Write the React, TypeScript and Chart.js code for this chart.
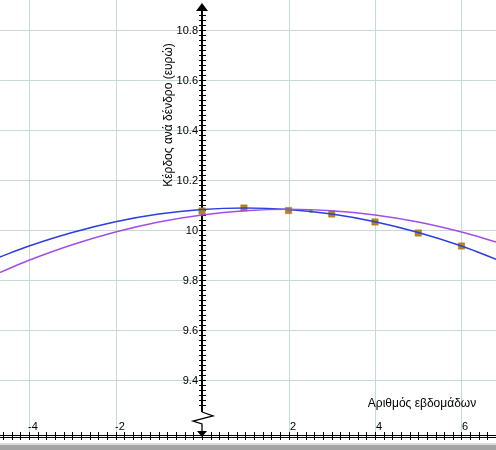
import React, { useEffect, useRef } from "react";
import { Chart, registerables } from "chart.js";

Chart.register(...registerables);

const curveX = [-4.7, -4, -3, -2, -1, 0, 1, 2, 3, 4, 5, 6, 6.8];
const blueY = [9.89, 9.936, 9.99, 10.033, 10.064, 10.082, 10.088, 10.082, 10.064, 10.033, 9.99, 9.936, 9.883];
const purpleY = [9.828, 9.879, 9.941, 9.992, 10.032, 10.06, 10.077, 10.083, 10.077, 10.06, 10.032, 9.992, 9.952];
const markerX = [0, 0.97, 2, 3, 4, 5, 6];
const markerY = [10.076, 10.088, 10.078, 10.064, 10.032, 9.988, 9.936];
const greenX = [2.52];
const greenY = [10.076];
const xTickLabels = [-4, -2, 2, 4, 6];
const yTickLabels = [9.4, 9.6, 9.8, 10, 10.2, 10.4, 10.6, 10.8];
const xTitle = "Αριθμός εβδομάδων";
const yTitle = "Κέρδος ανά δένδρο (ευρώ)";

const FONT = '11px "Liberation Sans", Arial, sans-serif';
const TITLE_FONT = '12px "Liberation Sans", Arial, sans-serif';

const axesPlugin = {
  id: "customAxes",
  beforeDatasetsDraw(chart: any) {
    const ctx = chart.ctx;
    const xs = chart.scales.x;
    const ys = chart.scales.y;
    const W = chart.width;
    const H = chart.height;
    const x0 = Math.round(xs.getPixelForValue(0));
    const axisY = 435;
    ctx.save();
    // grid
    ctx.strokeStyle = "#c6d9d9";
    ctx.lineWidth = 1;
    for (const v of yTickLabels) {
      const py = Math.round(ys.getPixelForValue(v)) + 0.5;
      ctx.beginPath();
      ctx.moveTo(0, py);
      ctx.lineTo(W, py);
      ctx.stroke();
    }
    for (const v of xTickLabels) {
      const px = Math.round(xs.getPixelForValue(v)) + 0.5;
      ctx.beginPath();
      ctx.moveTo(px, 0);
      ctx.lineTo(px, axisY);
      ctx.stroke();
    }
    // bottom band
    ctx.fillStyle = "#dcdcdc";
    ctx.fillRect(0, 443, W, 2);
    ctx.fillStyle = "#a4a4a4";
    ctx.fillRect(0, 445, W, H - 445);
    // x axis double line
    ctx.strokeStyle = "#000";
    ctx.lineWidth = 1;
    ctx.beginPath();
    ctx.moveTo(0, axisY + 0.5);
    ctx.lineTo(W, axisY + 0.5);
    ctx.moveTo(0, axisY + 2.5);
    ctx.lineTo(W, axisY + 2.5);
    ctx.stroke();
    // x ticks every 0.2
    ctx.beginPath();
    for (let i = -24; i <= 34; i++) {
      const px = Math.round(xs.getPixelForValue(i * 0.2)) + 0.5;
      ctx.moveTo(px, axisY - 3);
      ctx.lineTo(px, axisY + 5);
    }
    ctx.stroke();
    // y axis
    const breakTop = 412;
    ctx.lineWidth = 2;
    ctx.beginPath();
    ctx.moveTo(x0, 8);
    ctx.lineTo(x0, breakTop);
    ctx.stroke();
    ctx.lineWidth = 1.3;
    ctx.beginPath();
    ctx.moveTo(x0, breakTop);
    ctx.lineTo(x0 + 11, breakTop + 4);
    ctx.lineTo(x0 - 9, breakTop + 9);
    ctx.lineTo(x0, breakTop + 12);
    ctx.lineTo(x0, axisY - 4);
    ctx.stroke();
    // y ticks every 0.02
    ctx.lineWidth = 1;
    ctx.beginPath();
    for (let i = 0; i <= 90; i++) {
      const v = 9.3 + i * 0.02;
      const py = Math.round(ys.getPixelForValue(v)) + 0.5;
      if (py < 12 || py > breakTop - 1) continue;
      ctx.moveTo(x0 - 3, py);
      ctx.lineTo(x0 + 4, py);
    }
    ctx.stroke();
    // arrows
    ctx.fillStyle = "#000";
    ctx.beginPath();
    ctx.moveTo(x0, 3);
    ctx.lineTo(x0 + 6, 11);
    ctx.lineTo(x0 - 6, 11);
    ctx.closePath();
    ctx.fill();
    ctx.beginPath();
    ctx.moveTo(x0, axisY + 2);
    ctx.lineTo(x0 + 5, axisY - 4);
    ctx.lineTo(x0 - 5, axisY - 4);
    ctx.closePath();
    ctx.fill();
    // labels
    ctx.font = FONT;
    ctx.fillStyle = "#000";
    ctx.textAlign = "right";
    ctx.textBaseline = "middle";
    for (const v of yTickLabels) {
      const py = ys.getPixelForValue(v);
      ctx.fillText(String(v), x0 - 4, py + 1);
    }
    ctx.textAlign = "left";
    ctx.textBaseline = "alphabetic";
    for (const v of xTickLabels) {
      const px = Math.round(xs.getPixelForValue(v));
      ctx.fillText(String(v), v < 0 ? px - 1 : px + 1, 430);
    }
    ctx.font = TITLE_FONT;
    ctx.textAlign = "center";
    ctx.fillText(xTitle, 422, 407);
    ctx.save();
    ctx.translate(172, 115);
    ctx.rotate(-Math.PI / 2);
    ctx.textBaseline = "alphabetic";
    ctx.fillText(yTitle, 0, 0);
    ctx.restore();
    ctx.restore();
  },
};

export default function App() {
  const ref = useRef<HTMLCanvasElement | null>(null);
  useEffect(() => {
    if (!ref.current) return;
    const toPts = (xs: number[], ys: number[]) => xs.map((x, i) => ({ x, y: ys[i] }));
    const chart = new Chart(ref.current, {
      type: "scatter",
      data: {
        datasets: [
          {
            data: toPts(curveX, purpleY),
            showLine: true,
            borderColor: "#a24de6",
            borderWidth: 1.5,
            pointRadius: 0,
            tension: 0.4,
          },
          {
            data: toPts(curveX, blueY),
            showLine: true,
            borderColor: "#2c3ee0",
            borderWidth: 1.5,
            pointRadius: 0,
            tension: 0.4,
          },
          {
            data: toPts(markerX, markerY),
            showLine: false,
            pointStyle: "rect",
            pointRadius: 4.5,
            backgroundColor: "#b8841a",
            borderColor: "#a87614",
            borderWidth: 0.5,
          },
          {
            data: toPts(greenX, greenY),
            showLine: false,
            pointRadius: 2,
            backgroundColor: "#44cc33",
            borderWidth: 0,
          },
        ],
      },
      options: {
        responsive: false,
        animation: false,
        devicePixelRatio: 1,
        layout: { padding: 0, autoPadding: false },
        plugins: { legend: { display: false }, tooltip: { enabled: false } },
        scales: {
          x: { type: "linear", display: false, min: -4.671, max: 6.798 },
          y: { type: "linear", display: false, min: 9.12, max: 10.92 },
        },
      },
      plugins: [axesPlugin],
    } as any);
    return () => chart.destroy();
  }, []);
  return (
    <div style={{ position: "fixed", left: 0, top: 0, width: 496, height: 450, background: "#fff" }}>
      <canvas ref={ref} width={496} height={450} style={{ width: 496, height: 450, display: "block" }} />
    </div>
  );
}
